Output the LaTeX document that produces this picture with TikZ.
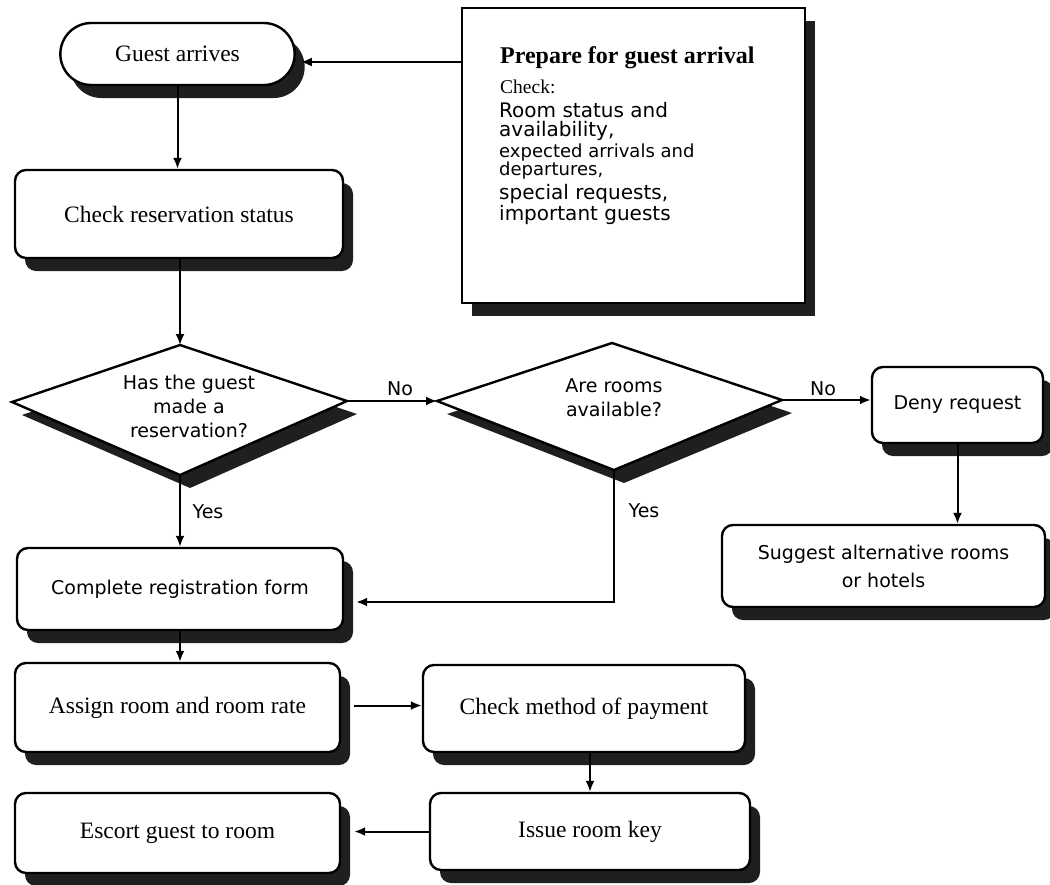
\documentclass[tikz,border=0pt]{standalone}
\usepackage{fontspec}
\setmainfont{Liberation Serif}
\newfontfamily\dejavu{DejaVu Sans}
\usetikzlibrary{shapes.misc,shadows,arrows.meta,calc}

\newcommand\serifsz{\fontsize{23.5}{26}\selectfont}
\newcommand\sanssz{\dejavu\fontsize{19}{24}\selectfont}

\begin{document}
\begin{tikzpicture}[x=1pt,y=-1pt,
  boxshadow/.style={drop shadow={shadow xshift=10pt,shadow yshift=-13pt,fill=black!88,opacity=1}},
  frame/.style={draw=black,line width=2.4pt,fill=white,boxshadow},
  stepbox/.style={frame,rectangle,rounded corners=11pt,inner sep=0pt},
  serifbox/.style={stepbox,font=\serifsz},
  sansbox/.style={stepbox,font=\sanssz,align=center},
  arr/.style={line width=2pt,-{Latex[length=11pt,width=9pt]}},
  lbl/.style={font=\sanssz,inner sep=0pt},
  note/.style={anchor=base west,inner sep=0pt},
]
\useasboundingbox (0,0) rectangle (1050,884);

% start and preparation
\node[frame,rounded rectangle,minimum width=241pt,minimum height=62pt,font=\serifsz] (ga) at (177.5,54) {Guest arrives};
\node[frame,rectangle,minimum width=343pt,minimum height=295pt] (prep) at (633.5,155.5) {};
\node[note,font=\fontsize{24}{28}\selectfont\bfseries] (pt1) at (500,63) {Prepare for guest arrival};
\node[note,font=\fontsize{19.5}{22}\selectfont] (pt2) at (500,93) {Check:};
\node[note,font=\dejavu\fontsize{20}{22}\selectfont] (pt3) at (499,117) {Room status and};
\node[note,font=\dejavu\fontsize{20}{22}\selectfont] (pt4) at (499,136) {availability,};
\node[note,font=\dejavu\fontsize{18}{22}\selectfont] (pt5) at (499,157) {expected arrivals and};
\node[note,font=\dejavu\fontsize{18}{22}\selectfont] (pt6) at (499,175) {departures,};
\node[note,font=\dejavu\fontsize{20}{22}\selectfont] (pt7) at (499,199) {special requests,};
\node[note,font=\dejavu\fontsize{20}{22}\selectfont] (pt8) at (499,220) {important guests};

\node[serifbox,minimum width=328pt,minimum height=88pt] (chk) at (179,214) {Check reservation status};

% decisions
\coordinate (d1t) at (180,345); \coordinate (d1r) at (347,401);
\coordinate (d1b) at (180,475); \coordinate (d1l) at (12,402);
\draw[frame,line join=miter] (d1t) -- (d1r) -- (d1b) -- (d1l) -- cycle;
\node[lbl,align=center] (q1) at (189,406) {Has the guest\\made a\\reservation?};

\coordinate (d2t) at (612,343); \coordinate (d2r) at (782,400);
\coordinate (d2b) at (614,470); \coordinate (d2l) at (437,401);
\draw[frame,line join=miter] (d2t) -- (d2r) -- (d2b) -- (d2l) -- cycle;
\node[lbl,align=center] (q2) at (614,398) {Are rooms\\available?};

\node[sansbox,minimum width=171pt,minimum height=76pt] (deny) at (957.5,405) {Deny request};
\node[sansbox,minimum width=323pt,minimum height=82pt,font=\dejavu\fontsize{19}{28}\selectfont] (sug) at (883.5,566) {Suggest alternative rooms\\or hotels};

% registration steps
\node[sansbox,minimum width=326pt,minimum height=82pt] (reg) at (180,589) {Complete registration form};
\node[serifbox,minimum width=325pt,minimum height=89pt] (asg) at (177.5,707.5) {Assign room and room rate};
\node[serifbox,minimum width=322pt,minimum height=87pt] (pay) at (584,708.5) {Check method of payment};
\node[serifbox,minimum width=320pt,minimum height=77pt] (key) at (590,831.5) {Issue room key};
\node[serifbox,minimum width=325pt,minimum height=80pt] (esc) at (177.5,833) {Escort guest to room};

% branch labels
\node[lbl] (no1) at (400,389) {No};
\node[lbl] (no2) at (823,389) {No};
\node[lbl] (yes1) at (208,512) {Yes};
\node[lbl] (yes2) at (644,511) {Yes};

% connectors
\coordinate (gaIn) at ($(ga.east)+(5,8)$);
\draw[arr] (prep.west |- gaIn) -- (gaIn);
\draw[arr] (ga.south) -- (ga.south |- chk.north);
\draw[arr] (chk.south -| d1t) -- (d1t);
\draw[arr] (d1r) -- (d2l);
\draw[arr] (d1b) -- (d1b |- reg.north);
\coordinate (regIn) at ($(reg.east)+(12,13)$);
\draw[arr] (d2b) |- (regIn);
\draw[arr] (d2r) -- (d2r -| deny.west);
\draw[arr] (deny.south) -- (deny.south |- sug.north);
\draw[arr] (reg.south) -- (reg.south |- asg.north);
\coordinate (asgOut) at ($(asg.east)+(13,-2)$);
\draw[arr] (asgOut) -- (asgOut -| pay.west);
\draw[arr] (key.north |- pay.south) -- (key.north);
\coordinate (escIn) at ($(esc.east)+(13,0)$);
\draw[arr] (key.west) -- (key.west -| escIn);
\end{tikzpicture}
\end{document}
